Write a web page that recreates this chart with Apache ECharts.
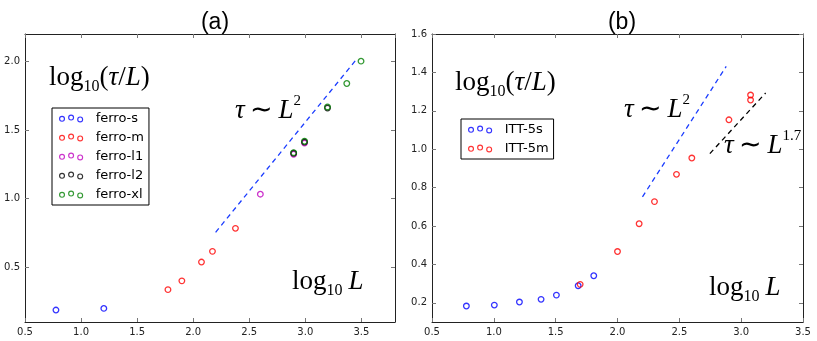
<!DOCTYPE html>
<html><head><meta charset="utf-8">
<script src="https://cdn.jsdelivr.net/npm/echarts@6/dist/echarts.min.js"></script>
<style>html,body{margin:0;padding:0;background:#fff}#c{width:817px;height:341px}</style>
</head><body><div id="c"></div>
<script>
// ---- Panel (a) data ----
const ferroS_x = [0.776, 1.203];
const ferroS_y = [0.187, 0.199];
const ferroM_x = [1.775, 1.899, 2.074, 2.172, 2.377];
const ferroM_y = [0.336, 0.400, 0.537, 0.615, 0.783];
const ferroL1_x = [2.599, 2.896, 2.993];
const ferroL1_y = [1.032, 1.323, 1.405];
const ferroL2_x = [2.896, 2.993, 3.198];
const ferroL2_y = [1.330, 1.412, 1.660];
const ferroXL_x = [2.896, 2.993, 3.198, 3.370, 3.497];
const ferroXL_y = [1.335, 1.418, 1.668, 1.839, 2.002];
const fitA_x = [2.20, 3.465];
const fitA_y = [0.754, 2.024];
// ---- Panel (b) data ----
const itt5s_x = [0.778, 1.004, 1.207, 1.382, 1.506, 1.682, 1.808];
const itt5s_y = [0.183, 0.188, 0.204, 0.218, 0.240, 0.289, 0.341];
const itt5m_x = [1.698, 2.000, 2.175, 2.299, 2.477, 2.601, 2.901, 3.076, 3.076];
const itt5m_y = [0.296, 0.467, 0.612, 0.727, 0.869, 0.954, 1.153, 1.256, 1.282];
const fitB2_x = [2.202, 2.879];
const fitB2_y = [0.752, 1.431];
const fitB17_x = [2.747, 3.198];
const fitB17_y = [0.977, 1.293];
// ---- ticks ----
const yTicksA = [0.5, 1.0, 1.5, 2.0];
const yTicksB = [0.2, 0.4, 0.6, 0.8, 1.0, 1.2, 1.4, 1.6];

const zip = (xs, ys) => xs.map((x, i) => [x, ys[i]]);

const C = {blue:'#0000ff', red:'#ff0000', mag:'#bf00bf', blk:'#000000', grn:'#008000'};

function ringsPath() {
  const c = [[3, 4.0], [12.3, 2.7], [21.6, 4.7]];
  const R = 3.1, r = 1.9;
  return 'path://' + c.map(([x, y]) =>
    `M${x-R} ${y}A${R} ${R} 0 1 0 ${x+R} ${y}A${R} ${R} 0 1 0 ${x-R} ${y}Z` +
    `M${x-r} ${y}A${r} ${r} 0 1 1 ${x+r} ${y}A${r} ${r} 0 1 1 ${x-r} ${y}Z`).join('') +
    'M32 4L32 4Z';
}
const ICON = ringsPath();

const tickFont = {fontFamily:'DejaVu Sans', fontSize:10, color:'#222'};
const axisLineS = {show:true, lineStyle:{color:'#222', width:1}};
const tickS = {show:true, inside:true, length:4, lineStyle:{color:'#777', width:1}};

function xAxes(gi, max) {
  return [
    {type:'value', gridIndex:gi, position:'bottom', min:0.5, max:max, interval:0.5,
     axisLine:axisLineS, axisTick:tickS, splitLine:{show:false},
     axisLabel:Object.assign({margin:5, formatter:v=>v.toFixed(1), showMaxLabel: max===3.5}, tickFont)},
    {type:'value', gridIndex:gi, position:'top', min:0.5, max:max, interval:0.5,
     axisLine:axisLineS, axisTick:tickS, splitLine:{show:false}, axisLabel:{show:false}}
  ];
}
function yAxes(gi, min, max, ticks) {
  return [
    {type:'value', gridIndex:gi, position:'left', min:min, max:max,
     axisLine:axisLineS, splitLine:{show:false},
     axisTick:Object.assign({customValues:ticks}, tickS),
     axisLabel:Object.assign({margin:5, customValues:ticks, formatter:v=>v.toFixed(1)}, tickFont)},
    {type:'value', gridIndex:gi, position:'right', min:min, max:max,
     axisLine:axisLineS, splitLine:{show:false},
     axisTick:Object.assign({customValues:ticks}, tickS), axisLabel:{show:false}}
  ];
}

function sc(name, xi, yi, data, color) {
  return {type:'scatter', name:name, xAxisIndex:xi, yAxisIndex:yi, data:data,
    symbol:'circle', symbolSize:5.6, silent:true,
    itemStyle:{color:'rgba(0,0,0,0)', borderColor:color, borderWidth:1.3}};
}
function dl(xi, yi, data, color) {
  return {type:'line', xAxisIndex:xi, yAxisIndex:yi, data:data, showSymbol:false, silent:true,
    lineStyle:{color:color, width:1.3, type:[5,4]}, z:1};
}

const rich = {
  rm:{fontFamily:'Liberation Serif', fontSize:27, lineHeight:36, verticalAlign:'middle', color:'#000'},
  it:{fontFamily:'Liberation Serif', fontStyle:'italic', fontSize:27, lineHeight:36, verticalAlign:'middle', color:'#000'},
  sub:{fontFamily:'Liberation Serif', fontSize:16, lineHeight:16, verticalAlign:'bottom', color:'#000', padding:[0,0,1,0]},
  sup:{fontFamily:'Liberation Serif', fontSize:15, lineHeight:15, verticalAlign:'top', color:'#000', padding:[1,0,0,0]},
  sp:{fontFamily:'Liberation Serif', fontSize:27, lineHeight:36, verticalAlign:'middle', width:6}
};
function tex(x, baseline, text) {
  return {type:'text', x:x, y:baseline - 27, silent:true,
    style:{text:text, rich:rich, align:'left', verticalAlign:'top'}};
}
const lblTauL = '{rm|log}{sub|10}{rm|(}{it|τ}{rm|/}{it|L}{rm|)}';
const lblLogL = '{rm|log}{sub|10}{sp|}{it|L}';
const lblL2 = '{it|τ}{rm|\u2009∼\u2009}{it|L}{sup|2}';
const lblL17 = '{it|τ}{rm|\u2009∼\u2009}{it|L}{sup|1.7}';

const legendCommon = {orient:'vertical', itemWidth:32, itemHeight:8, itemGap:4,
  borderColor:'#000', borderWidth:1, borderRadius:0, backgroundColor:'#fff',
  padding:[3,5,3,7], selectedMode:false,
  textStyle:{fontFamily:'DejaVu Sans', fontSize:13, lineHeight:15, color:'#000'}};
function legItem(name, color) {
  return {name:name, icon:ICON, itemStyle:{color:color, borderWidth:0}};
}

const option = {
  animation:false,
  backgroundColor:'#fff',
  title:[
    {text:'(a)', left:210, top:6, textAlign:'center', textStyle:{fontFamily:'Liberation Sans', fontSize:23, fontWeight:'normal', color:'#000'}},
    {text:'(b)', left:617, top:6, textAlign:'center', textStyle:{fontFamily:'Liberation Sans', fontSize:23, fontWeight:'normal', color:'#000'}}
  ],
  grid:[
    {left:25, top:34, width:370, height:288},
    {left:432, top:34, width:371, height:288}
  ],
  xAxis:[...xAxes(0, 3.8), ...xAxes(1, 3.5)],
  yAxis:[...yAxes(0, 0.1, 2.2, yTicksA), ...yAxes(1, 0.1, 1.6, yTicksB)],
  legend:[
    Object.assign({left:52, top:108, data:[legItem('ferro-s',C.blue), legItem('ferro-m',C.red),
      legItem('ferro-l1',C.mag), legItem('ferro-l2',C.blk), legItem('ferro-xl',C.grn)]}, legendCommon),
    Object.assign({left:461, top:119, data:[legItem('ITT-5s',C.blue), legItem('ITT-5m',C.red)]}, legendCommon)
  ],
  series:[
    dl(0, 0, zip(fitA_x, fitA_y), '#1a3cff'),
    sc('ferro-s', 0, 0, zip(ferroS_x, ferroS_y), C.blue),
    sc('ferro-m', 0, 0, zip(ferroM_x, ferroM_y), C.red),
    sc('ferro-l1', 0, 0, zip(ferroL1_x, ferroL1_y), C.mag),
    sc('ferro-l2', 0, 0, zip(ferroL2_x, ferroL2_y), C.blk),
    sc('ferro-xl', 0, 0, zip(ferroXL_x, ferroXL_y), C.grn),
    dl(2, 2, zip(fitB2_x, fitB2_y), '#1a3cff'),
    dl(2, 2, zip(fitB17_x, fitB17_y), '#000'),
    sc('ITT-5s', 2, 2, zip(itt5s_x, itt5s_y), C.blue),
    sc('ITT-5m', 2, 2, zip(itt5m_x, itt5m_y), C.red)
  ],
  graphic:[
    tex(49, 87, lblTauL),
    tex(235, 120, lblL2),
    tex(292, 291, lblLogL),
    tex(455, 92, lblTauL),
    tex(624, 119, lblL2),
    tex(724, 155, lblL17),
    tex(709, 297, lblLogL)
  ]
};
const chart = echarts.init(document.getElementById('c'), null, {renderer:'canvas'});
chart.setOption(option);
</script></body></html>
